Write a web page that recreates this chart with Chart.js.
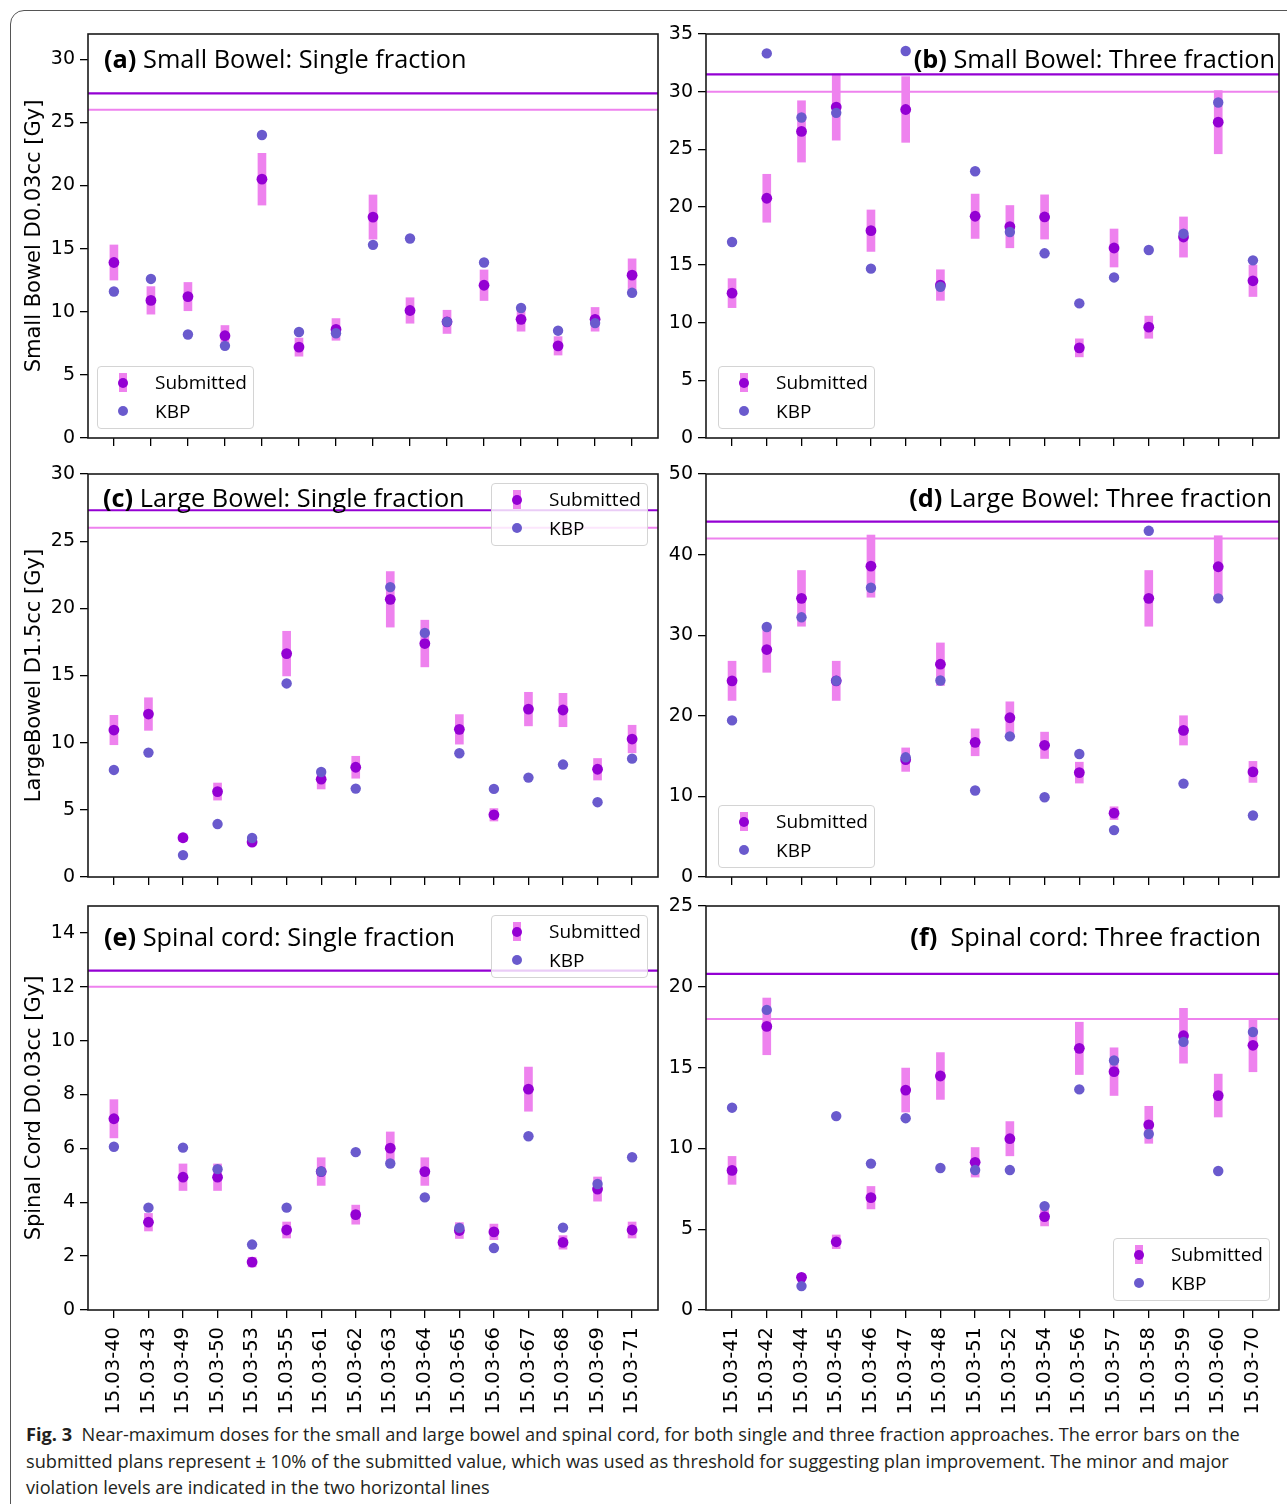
<!DOCTYPE html>
<html>
<head>
<meta charset="utf-8">
<script src="https://cdn.jsdelivr.net/npm/chart.js@4.4.1/dist/chart.umd.min.js"></script>
<style>
html,body{margin:0;padding:0;background:#fff;}
body{width:1287px;height:1504px;position:relative;overflow:hidden;font-family:'Open Sans',sans-serif;}
#outer{position:absolute;left:10px;top:10px;width:1320px;height:1540px;border:1px solid #555;border-radius:14px;}
canvas{position:absolute;}
.ptitle{position:absolute;font-family:'Open Sans',sans-serif;font-size:25.3px;line-height:30px;height:30px;color:#000;white-space:pre;}
.ptitle b{font-weight:700;}
.legend{position:absolute;width:157px;height:63px;background:rgba(255,255,255,0.8);border:1px solid #d4d4d4;border-radius:4px;box-sizing:border-box;}
.legend .txt{position:absolute;left:57px;font-family:'Open Sans',sans-serif;font-size:19px;line-height:24px;color:#000;white-space:pre;}
.legend .bar{position:absolute;width:8px;height:19px;background:#EE82EE;}
.legend .dot{position:absolute;width:10px;height:10px;border-radius:50%;}
#caption{position:absolute;left:26px;top:1421px;font-family:'Open Sans',sans-serif;font-size:18.2px;line-height:26.5px;color:#231f20;white-space:pre;}
</style>
</head>
<body>
<div id="outer"></div>
<canvas id="cA" width="665" height="430" style="left:0;top:20px"></canvas>
<canvas id="cB" width="622" height="430" style="left:665px;top:20px"></canvas>
<canvas id="cC" width="665" height="430" style="left:0;top:460px"></canvas>
<canvas id="cD" width="622" height="430" style="left:665px;top:460px"></canvas>
<canvas id="cE" width="665" height="525" style="left:0;top:895px"></canvas>
<canvas id="cF" width="622" height="525" style="left:665px;top:895px"></canvas>

<div class="ptitle" style="left:104px;top:43px"><b>(a)</b> Small Bowel: Single fraction</div>
<div class="ptitle" style="right:12px;top:43px"><b>(b)</b> Small Bowel: Three fraction</div>
<div class="ptitle" style="left:103px;top:482px"><b>(c)</b> Large Bowel: Single fraction</div>
<div class="ptitle" style="right:15px;top:482px"><b>(d)</b> Large Bowel: Three fraction</div>
<div class="ptitle" style="left:104px;top:921px"><b>(e)</b> Spinal cord: Single fraction</div>
<div class="ptitle" style="right:26px;top:921px"><b>(f)</b>  Spinal cord: Three fraction</div>

<div id="legends"></div>

<div id="caption"><b>Fig. 3</b>  Near-maximum doses for the small and large bowel and spinal cord, for both single and three fraction approaches. The error bars on the
submitted plans represent ± 10% of the submitted value, which was used as threshold for suggesting plan improvement. The minor and major
violation levels are indicated in the two horizontal lines</div>

<script>
// ---------- DATA ----------
const IDS_SINGLE = ['15.03-40','15.03-43','15.03-49','15.03-50','15.03-53','15.03-55','15.03-61','15.03-62','15.03-63','15.03-64','15.03-65','15.03-66','15.03-67','15.03-68','15.03-69','15.03-71'];
const IDS_THREE  = ['15.03-41','15.03-42','15.03-44','15.03-45','15.03-46','15.03-47','15.03-48','15.03-51','15.03-52','15.03-54','15.03-56','15.03-57','15.03-58','15.03-59','15.03-60','15.03-70'];
// panel (a) shows only 15 plans
const IDS_SB_SINGLE = IDS_SINGLE.slice(0, 15);

const SB_SINGLE_SUB = [13.9, 10.9, 11.2, 8.1, 20.5, 7.2, 8.6, 17.5, 10.1, 9.2, 12.1, 9.4, 7.3, 9.4, 12.9];
const SB_SINGLE_KBP = [11.6, 12.6, 8.2, 7.3, 24.0, 8.4, 8.3, 15.3, 15.8, 9.2, 13.9, 10.3, 8.5, 9.1, 11.5];

const SB_THREE_SUB = [12.55, 20.77, 26.56, 28.67, 17.96, 28.46, 13.25, 19.21, 18.31, 19.15, 7.81, 16.46, 9.60, 17.41, 27.36, 13.62];
const SB_THREE_KBP = [16.98, 33.32, 27.77, 28.17, 14.67, 33.53, 13.10, 23.11, 17.85, 16.00, 11.66, 13.91, 16.29, 17.70, 29.07, 15.39];

const LB_SINGLE_SUB = [10.94, 12.13, 2.92, 6.36, 2.60, 16.63, 7.28, 8.17, 20.67, 17.38, 10.99, 4.63, 12.50, 12.43, 8.02, 10.27];
const LB_SINGLE_KBP = [7.97, 9.26, 1.63, 3.94, 2.90, 14.41, 7.82, 6.58, 21.58, 18.17, 9.21, 6.56, 7.40, 8.37, 5.57, 8.81];

const LB_THREE_SUB = [24.34, 28.22, 34.57, 24.34, 38.57, 14.56, 26.40, 16.71, 19.76, 16.34, 12.95, 7.92, 34.57, 18.19, 38.49, 13.04];
const LB_THREE_KBP = [19.43, 31.02, 32.22, 24.34, 35.89, 14.85, 24.38, 10.73, 17.45, 9.90, 15.26, 5.82, 42.95, 11.59, 34.57, 7.63];

const SC_SINGLE_SUB = [7.10, 3.26, 4.93, 4.93, 1.78, 2.97, 5.14, 3.54, 6.01, 5.14, 2.95, 2.90, 8.20, 2.51, 4.49, 2.97];
const SC_SINGLE_KBP = [6.06, 3.80, 6.03, 5.23, 2.43, 3.80, 5.14, 5.86, 5.44, 4.18, 3.05, 2.30, 6.45, 3.06, 4.68, 5.67];

const SC_THREE_SUB = [8.64, 17.55, 2.02, 4.22, 6.95, 13.61, 14.48, 9.14, 10.60, 5.78, 16.19, 14.75, 11.46, 16.97, 13.27, 16.38];
const SC_THREE_KBP = [12.52, 18.57, 1.48, 12.00, 9.06, 11.87, 8.79, 8.66, 8.66, 6.43, 13.65, 15.44, 10.89, 16.59, 8.60, 17.20];

// violation levels per panel a..f
const MINOR_LEVEL = [26, 30, 26, 42, 12, 18];
const MAJOR_LEVEL = [27.3, 31.5, 27.3, 44.1, 12.6, 20.8];
const Y_MAX  = [32, 35, 30, 50, 15, 25];
const Y_STEP = [5, 5, 5, 10, 2, 5];
const Y_TITLES = ['Small Bowel D0.03cc [Gy]', '', 'LargeBowel D1.5cc [Gy]', '', 'Spinal Cord D0.03cc [Gy]', ''];
const ERROR_FRACTION = 0.10;
const LEGEND_LABELS = ['Submitted', 'KBP'];

// ---------- STYLE ----------
const C_SUB = '#9400D3', C_KBP = '#6A5ACD', C_ERR = '#EE82EE', C_MAJOR = '#9400D3', C_MINOR = '#EE82EE';
Chart.defaults.font.family = "'DejaVu Sans', sans-serif";
Chart.defaults.color = '#000';

const framePlugin = {
  id: 'frame',
  afterDatasetsDraw(chart) {
    const {ctx, chartArea: a} = chart;
    ctx.save();
    ctx.strokeStyle = '#1a1a1a';
    ctx.lineWidth = 1.6;
    ctx.strokeRect(a.left, a.top, a.right - a.left, a.bottom - a.top);
    ctx.restore();
  }
};

function makePanel(id, idx, labels, sub, kbp, cfg) {
  const n = labels.length;
  const m = 0.05 * (n - 1);
  const xmin = -m, xmax = n - 1 + m;
  const datasets = [
    { type: 'scatter', label: LEGEND_LABELS[1], data: kbp.map((v, i) => ({x: i, y: v})),
      pointRadius: 5.2, pointBackgroundColor: C_KBP, pointBorderWidth: 0, order: 0 },
    { type: 'scatter', label: LEGEND_LABELS[0], data: sub.map((v, i) => ({x: i, y: v})),
      pointRadius: 5.4, pointBackgroundColor: C_SUB, pointBorderWidth: 0, order: 1 },
    { type: 'line', label: 'major', data: [{x: xmin, y: MAJOR_LEVEL[idx]}, {x: xmax, y: MAJOR_LEVEL[idx]}],
      borderColor: C_MAJOR, borderWidth: 2.2, pointRadius: 0, fill: false, order: 2 },
    { type: 'line', label: 'minor', data: [{x: xmin, y: MINOR_LEVEL[idx]}, {x: xmax, y: MINOR_LEVEL[idx]}],
      borderColor: C_MINOR, borderWidth: 2, pointRadius: 0, fill: false, order: 3 },
    { type: 'bar', label: 'err', data: sub.map((v, i) => ({x: i, y: [v * (1 - ERROR_FRACTION), v * (1 + ERROR_FRACTION)]})),
      backgroundColor: C_ERR, borderWidth: 0, barThickness: 8, order: 4 }
  ];
  new Chart(document.getElementById(id), {
    type: 'scatter',
    data: { datasets },
    plugins: [framePlugin],
    options: {
      responsive: false, animation: false, devicePixelRatio: 1, events: [],
      layout: { padding: cfg.padding, autoPadding: false },
      plugins: { legend: { display: false }, tooltip: { enabled: false }, title: { display: false } },
      scales: {
        x: {
          type: 'linear', min: xmin, max: xmax, offset: false,
          ticks: { stepSize: 1, includeBounds: false, autoSkip: false, minRotation: 90, maxRotation: 90,
                   display: cfg.showX, font: { size: 19.5 }, color: '#000', padding: 9,
                   callback: v => labels[v] },
          grid: { display: true, offset: false, drawOnChartArea: false, drawTicks: true, tickLength: 8, color: '#000', lineWidth: 1.3 },
          border: { display: false },
          afterFit: s => { s.height = cfg.xh; s.paddingLeft = 0; s.paddingRight = 0; s.paddingTop = 0; s.paddingBottom = 0; }
        },
        y: {
          type: 'linear', min: 0, max: Y_MAX[idx],
          ticks: { stepSize: Y_STEP[idx], includeBounds: false, font: { size: 19 }, color: '#000', padding: 5 },
          grid: { display: true, offset: false, drawOnChartArea: false, drawTicks: true, tickLength: 8, color: '#000', lineWidth: 1.3 },
          border: { display: false },
          title: { display: !!Y_TITLES[idx], text: Y_TITLES[idx], font: { size: 21 }, color: '#000', padding: { top: 7, bottom: 0 } },
          afterFit: s => { s.width = cfg.yw; s.paddingTop = 0; s.paddingBottom = 0; s.paddingLeft = 0; s.paddingRight = 0; }
        }
      }
    }
  });
}

const LEFT = { padding: { left: 15, right: 7, top: 14, bottom: 0 }, yw: 73 };
const RIGHT = { padding: { left: 0, right: 8, top: 14, bottom: 0 }, yw: 41 };

makePanel('cA', 0, IDS_SB_SINGLE, SB_SINGLE_SUB, SB_SINGLE_KBP, {...LEFT, xh: 12, showX: false});
makePanel('cB', 1, IDS_THREE, SB_THREE_SUB, SB_THREE_KBP, {...RIGHT, xh: 12, showX: false});
makePanel('cC', 2, IDS_SINGLE, LB_SINGLE_SUB, LB_SINGLE_KBP, {...LEFT, xh: 13, showX: false});
makePanel('cD', 3, IDS_THREE, LB_THREE_SUB, LB_THREE_KBP, {...RIGHT, xh: 13, showX: false});
makePanel('cE', 4, IDS_SINGLE, SC_SINGLE_SUB, SC_SINGLE_KBP, {...LEFT, padding: {...LEFT.padding, top: 11}, xh: 110, showX: true});
makePanel('cF', 5, IDS_THREE, SC_THREE_SUB, SC_THREE_KBP, {...RIGHT, padding: {...RIGHT.padding, top: 11}, xh: 110, showX: true});

// ---------- LEGENDS (inside axes, matplotlib style) ----------
const LEGEND_POS = [[97, 366], [718, 366], [491, 483], [718, 805], [491, 915], [1113, 1238]];
const host = document.getElementById('legends');
LEGEND_POS.forEach(([lx, ly]) => {
  const box = document.createElement('div');
  box.className = 'legend';
  box.style.left = lx + 'px';
  box.style.top = ly + 'px';
  box.innerHTML =
    `<div class="bar" style="left:21px;top:6px"></div>` +
    `<div class="dot" style="left:20px;top:11px;background:${C_SUB}"></div>` +
    `<div class="txt" style="top:3px">${LEGEND_LABELS[0]}</div>` +
    `<div class="dot" style="left:20px;top:39px;background:${C_KBP}"></div>` +
    `<div class="txt" style="top:32px">${LEGEND_LABELS[1]}</div>`;
  host.appendChild(box);
});
</script>
</body>
</html>
